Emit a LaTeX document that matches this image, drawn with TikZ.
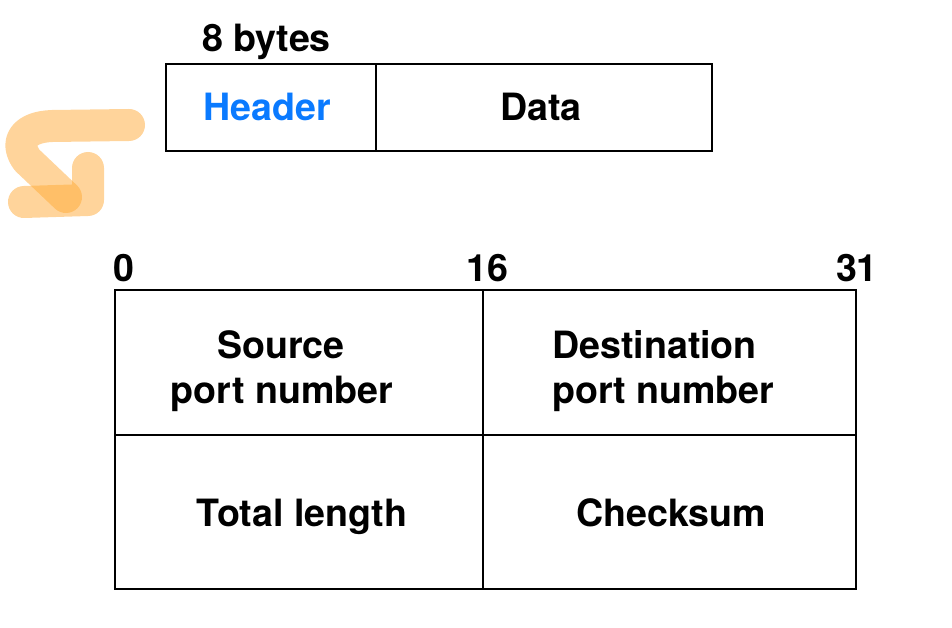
\documentclass[tikz,border=0pt]{standalone}
\usepackage{fontspec}
\setmainfont{TeX Gyre Heros}
\definecolor{hdrblue}{RGB}{10,122,255}
\definecolor{hiorange}{RGB}{255,170,55}
\begin{document}
\begin{tikzpicture}[x=1pt,y=-1pt,
  cell/.style={draw=black,line width=2pt},
  lbl/.style={font=\fontsize{37.6}{44}\selectfont\bfseries,inner sep=0pt},
  hl/.style={draw=hiorange,opacity=0.5,line width=32pt,line cap=round,line join=round}]
\useasboundingbox (0,0) rectangle (952,628);
% top packet
\draw[cell] (166,64) rectangle (376,151);
\draw[cell] (376,64) rectangle (712,151);
\node[lbl,anchor=base west] (bytes) at (202,52) {8 bytes};
\node[lbl,anchor=base,text=hdrblue] (header) at (267,121) {Header};
\node[lbl,anchor=base] (data) at (541,121) {Data};
% highlight stroke
\draw[hl] (129,125) -- (52,126) .. controls (24,127) and (14,142) .. (27,160) -- (66,197);
\draw[hl] (88,168) -- (88,200) -- (24,202);
% header layout
\draw[cell] (115,290) rectangle (483,435);
\draw[cell] (483,290) rectangle (856,435);
\draw[cell] (115,435) rectangle (483,589);
\draw[cell] (483,435) rectangle (856,589);
\node[lbl,anchor=base west] (b0) at (113,281) {0};
\node[lbl,anchor=base west] (b16) at (466,281) {16};
\node[lbl,anchor=base east] (b31) at (878,281) {31};
\node[lbl,anchor=base] (src1) at (281,358) {Source};
\node[lbl,anchor=base] (src2) at (282,403) {port number};
\node[lbl,anchor=base west] (dst1) at (552,358) {Destination};
\node[lbl,anchor=base west] (dst2) at (552,403) {port number};
\node[lbl,anchor=base] (len) at (302,526) {Total length};
\node[lbl,anchor=base] (chk) at (671,526) {Checksum};
\end{tikzpicture}
\end{document}
